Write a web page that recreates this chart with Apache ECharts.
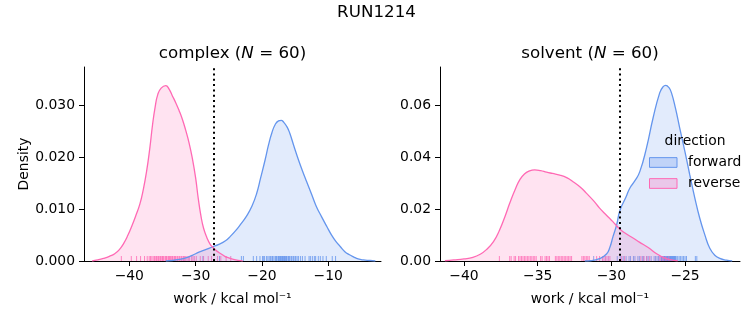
<!DOCTYPE html>
<html><head><meta charset="utf-8">
<script src="https://cdn.jsdelivr.net/npm/echarts@6/dist/echarts.min.js"></script>
<style>html,body{margin:0;padding:0;background:#fff}#c{width:753px;height:325px}</style>
</head><body><div id="c"></div>
<script>
// ---- data ----
const complexForwardX = [-34.5,-33.5,-32.5,-31.5,-30.5,-29.5,-28.5,-27.5,-26.5,-25.5,-24.8,-24.0,-23.2,-22.3,-21.5,-20.8,-20.2,-19.5,-19.0,-18.5,-18.0,-17.5,-17.1,-16.7,-16.2,-15.8,-15.2,-14.5,-13.9,-13.3,-12.5,-11.8,-11.0,-10.2,-9.5,-8.8,-8.2,-7.5,-6.8,-6.2,-5.5,-4.7,-3.7,-2.9];
const complexForwardY = [0.0000,0.0001,0.0003,0.0006,0.0011,0.0017,0.0022,0.0027,0.0032,0.0039,0.0047,0.0058,0.0071,0.0087,0.0106,0.0130,0.0160,0.0196,0.0224,0.0247,0.0263,0.0270,0.0271,0.0267,0.0258,0.0246,0.0222,0.0195,0.0174,0.0154,0.0128,0.0105,0.0085,0.0066,0.0050,0.0037,0.0028,0.0018,0.0012,0.0008,0.0004,0.0002,0.0001,0.0000];
const complexReverseX = [-45.6,-44.8,-43.9,-43.0,-42.2,-41.5,-40.8,-40.2,-39.6,-39.0,-38.4,-37.9,-37.4,-36.9,-36.5,-36.1,-35.7,-35.2,-34.5,-34.0,-33.5,-33.0,-32.5,-32.0,-31.5,-31.0,-30.5,-30.0,-29.6,-29.2,-28.8,-28.3,-27.8,-27.3,-26.8,-26.2,-25.6,-25.0,-24.3,-23.6,-22.9];
const complexReverseY = [0.0000,0.0002,0.0005,0.0009,0.0014,0.0022,0.0035,0.0050,0.0068,0.0088,0.0110,0.0137,0.0172,0.0218,0.0262,0.0297,0.0321,0.0333,0.0338,0.0331,0.0318,0.0305,0.0290,0.0273,0.0252,0.0228,0.0198,0.0160,0.0120,0.0087,0.0063,0.0045,0.0032,0.0025,0.0019,0.0014,0.0009,0.0006,0.0003,0.0001,0.0000];
const solventForwardX = [-31.8,-31.4,-30.8,-30.33,-30.1,-29.89,-29.64,-29.42,-29.0,-28.75,-28.4,-28.07,-27.62,-27.17,-26.72,-26.5,-26.31,-26.1,-25.92,-25.65,-25.36,-25.0,-24.68,-24.35,-24.0,-23.65,-23.32,-22.98,-22.64,-22.2,-21.8];
const solventForwardY = [0.0000,0.0001,0.0009,0.0027,0.0053,0.0094,0.0140,0.0195,0.0248,0.0281,0.0310,0.0345,0.0436,0.0552,0.0649,0.0672,0.0678,0.0670,0.0649,0.0590,0.0513,0.0420,0.0333,0.0247,0.0165,0.0100,0.0049,0.0022,0.0010,0.0003,0.0000];
const solventReverseX = [-41.3,-40.7,-40.0,-39.4,-38.9,-38.5,-38.0,-37.6,-37.2,-36.9,-36.5,-36.2,-35.9,-35.6,-35.2,-34.8,-34.4,-34.0,-33.5,-33.0,-32.6,-32.1,-31.7,-31.2,-30.8,-30.3,-29.9,-29.4,-29.0,-28.5,-28.1,-27.5,-26.9,-26.4,-26.0,-25.5];
const solventReverseY = [0.0001,0.0004,0.0008,0.0014,0.0026,0.0043,0.0075,0.0118,0.0175,0.0223,0.0280,0.0315,0.0336,0.0347,0.0352,0.0349,0.0343,0.0338,0.0332,0.0321,0.0306,0.0285,0.0262,0.0232,0.0204,0.0175,0.0152,0.0122,0.0105,0.0088,0.0073,0.0052,0.0027,0.0012,0.0005,0.0001];

const complexForwardRug = [-28.9,-26.4,-23.1,-22.8,-21.3,-20.8,-19.8,-19.6,-19.3,-19.1,-18.9,-18.7,-18.5,-18.4,-18.2,-18.0,-17.9,-17.8,-17.6,-17.5,-17.4,-17.3,-17.2,-17.1,-17.0,-16.9,-16.8,-16.7,-16.6,-16.5,-16.4,-16.3,-16.2,-16.0,-15.9,-15.8,-15.6,-15.5,-15.3,-15.2,-15.0,-14.9,-14.7,-14.2,-13.9,-13.5,-12.9,-12.7,-12.4,-12.1,-11.9,-11.5,-11.2,-10.8,-10.3,-9.4,-8.9,-20.3,-19.9,-14.5];
const complexReverseRug = [-41.2,-39.7,-38.9,-38.3,-37.7,-37.3,-37.0,-36.8,-36.6,-36.4,-36.2,-36.0,-35.9,-35.7,-35.6,-35.4,-35.3,-35.1,-35.0,-34.9,-34.8,-34.6,-34.5,-34.4,-34.3,-34.1,-34.0,-33.9,-33.8,-33.6,-33.5,-33.4,-33.2,-33.1,-33.0,-32.8,-32.7,-32.5,-32.4,-32.2,-32.1,-31.9,-31.7,-31.5,-31.3,-31.1,-30.9,-30.6,-30.4,-30.2,-29.9,-29.3,-28.8,-28.1,-27.6,-26.7,-26.2,-25.4,-24.7,-31.8];
const solventForwardRug = [-31.2,-29.2,-29.0,-28.8,-28.7,-28.5,-28.4,-28.2,-28.1,-27.9,-27.6,-27.5,-27.3,-26.8,-26.7,-26.6,-26.6,-26.5,-26.4,-26.4,-26.3,-26.3,-26.2,-26.2,-26.1,-26.1,-26.0,-26.0,-25.9,-25.9,-25.8,-25.8,-25.7,-25.7,-25.6,-25.3,-25.2,-25.1,-25.0,-24.9,-24.3,-24.2,-27.0,-27.1,-26.9,-26.55,-26.45,-26.35,-26.25,-26.15,-26.05,-25.95,-25.85,-25.75,-25.65,-25.5,-25.4,-29.6,-29.4,-27.8];
const solventReverseRug = [-37.6,-36.9,-36.8,-36.6,-36.5,-36.3,-36.2,-36.0,-35.9,-35.8,-35.7,-35.6,-35.5,-35.4,-35.3,-35.2,-34.8,-34.7,-34.5,-34.4,-34.3,-34.2,-33.8,-33.7,-33.6,-33.5,-33.4,-33.3,-33.2,-33.1,-32.8,-32.7,-32.0,-31.9,-31.8,-31.7,-31.6,-31.0,-30.8,-30.6,-30.5,-30.4,-30.2,-30.1,-29.3,-29.1,-28.0,-27.8,-27.6,-27.4,-26.7,-26.5,-26.3,-26.1,-36.1,-35.1,-33.0,-32.9,-31.5,-30.3];

const dottedLines = [-27.34, -29.4];

const xTicksComplex = [-40, -30, -20, -10];
const xTickLabelsComplex = ['\u221240', '\u221230', '\u221220', '\u221210'];
const xTicksSolvent = [-40, -35, -30, -25];
const xTickLabelsSolvent = ['\u221240', '\u221235', '\u221230', '\u221225'];
const yTicksComplex = [0, 0.01, 0.02, 0.03];
const yTickLabelsComplex = ['0.000', '0.010', '0.020', '0.030'];
const yTicksSolvent = [0, 0.02, 0.04, 0.06];
const yTickLabelsSolvent = ['0.00', '0.02', '0.04', '0.06'];

const suptitle = 'RUN1214';
const panelNames = ['complex', 'solvent'];
const panelN = [60, 60];
const directions = ['forward', 'reverse'];
const legendTitle = 'direction';
const xLabel = 'work / kcal mol\u207B\u00B9';
const yLabel = 'Density';

// ---- styling ----
const FONT = 'DejaVu Sans';
const fwdLine = '#6495ED', fwdFill = 'rgba(100,149,237,0.27)';
const revLine = '#FF69B4', revFill = 'rgba(255,105,180,0.27)';

function zip(xs, ys) { return xs.map((x, i) => [x, ys[i]]); }
function lookup(ticks, labels) { return v => { const i = ticks.findIndex(t => Math.abs(t - v) < 1e-9); return i >= 0 ? labels[i] : ''; }; }

const grids = [
  { left: 84, top: 67, width: 297, height: 194 },
  { left: 440, top: 67, width: 300, height: 194 }
];

function xAxis(gi, min, max, ticks, labels) {
  return {
    gridIndex: gi, type: 'value', min: min, max: max,
    axisLine: { show: true, onZero: false, lineStyle: { color: '#000', width: 1 } },
    axisTick: { show: true, length: 5, customValues: ticks, lineStyle: { color: '#000', width: 1 } },
    axisLabel: { customValues: ticks, formatter: lookup(ticks, labels), color: '#000', fontSize: 13.9, fontFamily: FONT, margin: 8 },
    splitLine: { show: false },
    name: xLabel, nameLocation: 'middle', nameGap: 31,
    nameTextStyle: { color: '#000', fontSize: 13.9, fontFamily: FONT }
  };
}
function yAxis(gi, max, ticks, labels, name) {
  return {
    gridIndex: gi, type: 'value', min: 0, max: max,
    axisLine: { show: true, onZero: false, lineStyle: { color: '#000', width: 1 } },
    axisTick: { show: true, length: 5, customValues: ticks, lineStyle: { color: '#000', width: 1 } },
    axisLabel: { customValues: ticks, formatter: lookup(ticks, labels), color: '#000', fontSize: 13.9, fontFamily: FONT, margin: 9 },
    splitLine: { show: false },
    name: name || '', nameLocation: 'middle', nameGap: 47,
    nameTextStyle: { color: '#000', fontSize: 13.9, fontFamily: FONT }
  };
}

function kde(name, gi, xs, ys, line, fill, markX) {
  const s = {
    name: name, type: 'line', xAxisIndex: gi, yAxisIndex: gi,
    data: zip(xs, ys), showSymbol: false, symbol: 'none',
    smooth: 0.5,
    lineStyle: { color: line, width: 1.3 }, itemStyle: { color: line },
    areaStyle: { color: fill }, silent: true
  };
  if (markX !== undefined) {
    s.markLine = {
      silent: true, symbol: ['none', 'none'], label: { show: false },
      lineStyle: { color: '#000', type: [2, 3.3], width: 2 },
      data: [{ xAxis: markX }]
    };
  }
  return s;
}
function rug(gi, vals, color) {
  return {
    type: 'custom', name: 'rug', xAxisIndex: gi, yAxisIndex: gi, silent: true,
    data: vals.map(v => [v, 0]),
    encode: { x: 0, y: 1 },
    renderItem: function (params, api) {
      const p = api.coord([api.value(0), 0]);
      return { type: 'line', shape: { x1: p[0], y1: p[1], x2: p[0], y2: p[1] - 5 }, style: { stroke: color, lineWidth: 1, opacity: 0.8 } };
    }
  };
}

function panelTitle(i, cx) {
  return {
    type: 'text', x: cx, y: 54, silent: true,
    style: {
      text: '{a|' + panelNames[i] + ' (}{i|N}{a| = ' + panelN[i] + ')}',
      align: 'center', verticalAlign: 'middle',
      rich: {
        a: { fontSize: 16.7, fontFamily: FONT, fill: '#000' },
        i: { fontSize: 16.7, fontFamily: FONT, fontStyle: 'italic', fill: '#000' }
      }
    }
  };
}

const chart = echarts.init(document.getElementById('c'), null, { renderer: 'canvas' });
chart.setOption({
  animation: false,
  backgroundColor: '#fff',
  grid: grids,
  xAxis: [
    xAxis(0, -46.83, -2.05, xTicksComplex, xTickLabelsComplex),
    xAxis(1, -41.63, -21.27, xTicksSolvent, xTickLabelsSolvent)
  ],
  yAxis: [
    yAxis(0, 0.03737, yTicksComplex, yTickLabelsComplex, yLabel),
    yAxis(1, 0.0749, yTicksSolvent, yTickLabelsSolvent, '')
  ],
  legend: {
    orient: 'vertical', left: 649, top: 155.5, padding: 0,
    itemWidth: 27.5, itemHeight: 9.7, itemGap: 7, icon: 'rect', selectedMode: false,
    formatter: name => '{g|}' + name,
    textStyle: { color: '#000', fontSize: 13.9, fontFamily: FONT, lineHeight: 14,
      rich: { g: { width: 6, height: 14 } } },
    data: [
      { name: directions[0], itemStyle: { color: fwdFill, borderColor: fwdLine, borderWidth: 1 } },
      { name: directions[1], itemStyle: { color: revFill, borderColor: revLine, borderWidth: 1 } }
    ]
  },
  graphic: [
    { type: 'text', x: 376.5, y: 12.5, silent: true,
      style: { text: suptitle, align: 'center', verticalAlign: 'middle', fontSize: 16.7, fontFamily: FONT, fill: '#000' } },
    panelTitle(0, 232.5),
    panelTitle(1, 590),
    { type: 'text', x: 695, y: 141.7, silent: true, z: 100,
      style: { text: legendTitle, align: 'center', verticalAlign: 'middle', fontSize: 13.9, fontFamily: FONT, fill: '#000' } }
  ],
  series: [
    kde(directions[0], 0, complexForwardX, complexForwardY, fwdLine, fwdFill),
    kde(directions[1], 0, complexReverseX, complexReverseY, revLine, revFill, dottedLines[0]),
    kde(directions[0], 1, solventForwardX, solventForwardY, fwdLine, fwdFill),
    kde(directions[1], 1, solventReverseX, solventReverseY, revLine, revFill, dottedLines[1]),
    rug(0, complexForwardRug, fwdLine),
    rug(0, complexReverseRug, revLine),
    rug(1, solventForwardRug, fwdLine),
    rug(1, solventReverseRug, revLine)
  ]
});
</script></body></html>
